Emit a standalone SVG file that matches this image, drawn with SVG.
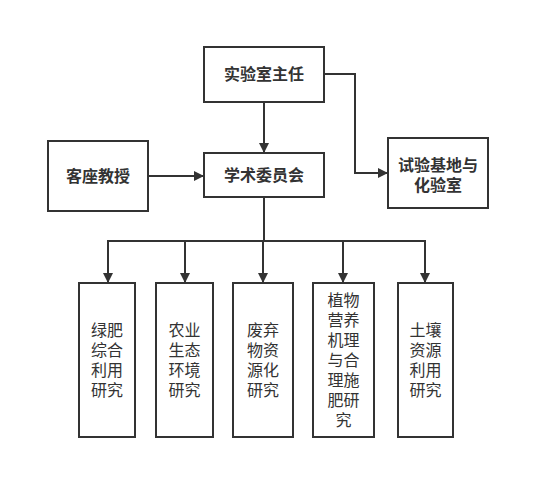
<svg xmlns="http://www.w3.org/2000/svg" width="550" height="499" viewBox="0 0 550 499">
<style>
.box{fill:#fff;stroke:#333;stroke-width:2}
.t{font-family:"Noto Sans CJK SC","Noto Sans",sans-serif;font-size:16px;fill:#333;text-anchor:middle}
.b{font-weight:bold}
.c{fill:none;stroke:#333;stroke-width:2}
</style>
<defs>
<marker id="ah" markerWidth="10" markerHeight="10" refX="9" refY="5" orient="auto" markerUnits="userSpaceOnUse" viewBox="0 0 10 10">
<path d="M0,0 L10,5 L0,10 z" fill="#333"/>
</marker>
</defs>
<rect width="550" height="499" fill="#fff"/>
<g id="connectors">
<path class="c" d="M264,102 V152" marker-end="url(#ah)"/>
<path class="c" d="M148,176 H203" marker-end="url(#ah)"/>
<path class="c" d="M324,74 H355 V173 H387" marker-end="url(#ah)"/>
<path class="c" d="M264,197 V241 M108,241 H425"/>
<path class="c" d="M108,240 V282" marker-end="url(#ah)"/>
<path class="c" d="M185,241 V282" marker-end="url(#ah)"/>
<path class="c" d="M263,241 V282" marker-end="url(#ah)"/>
<path class="c" d="M343,241 V282" marker-end="url(#ah)"/>
<path class="c" d="M425,240 V282" marker-end="url(#ah)"/>
</g>
<g id="n-director">
<rect class="box" x="204" y="47" width="120" height="55"/>
<text class="t b" x="264" y="80">实验室主任</text>
</g>
<g id="n-committee">
<rect class="box" x="204" y="153" width="120" height="44"/>
<text class="t b" x="264" y="181">学术委员会</text>
</g>
<g id="n-guest">
<rect class="box" x="48" y="141" width="100" height="70"/>
<text class="t b" x="98" y="182">客座教授</text>
</g>
<g id="n-base">
<rect class="box" x="388" y="138" width="100" height="70"/>
<text class="t b" x="438" y="171">试验基地与</text>
<text class="t b" x="438" y="191">化验室</text>
</g>
<g id="n1">
<rect class="box" x="79" y="283" width="56" height="154"/>
<text class="t"><tspan x="107" y="336">绿肥</tspan><tspan x="107" y="356">综合</tspan><tspan x="107" y="376">利用</tspan><tspan x="107" y="396">研究</tspan></text>
</g>
<g id="n2">
<rect class="box" x="156" y="283" width="57" height="154"/>
<text class="t"><tspan x="184.5" y="336">农业</tspan><tspan x="184.5" y="356">生态</tspan><tspan x="184.5" y="376">环境</tspan><tspan x="184.5" y="396">研究</tspan></text>
</g>
<g id="n3">
<rect class="box" x="233" y="283" width="60" height="154"/>
<text class="t"><tspan x="263" y="336">废弃</tspan><tspan x="263" y="356">物资</tspan><tspan x="263" y="376">源化</tspan><tspan x="263" y="396">研究</tspan></text>
</g>
<g id="n4">
<rect class="box" x="313" y="283" width="61" height="154"/>
<text class="t"><tspan x="343.5" y="306">植物</tspan><tspan x="343.5" y="326">营养</tspan><tspan x="343.5" y="346">机理</tspan><tspan x="343.5" y="366">与合</tspan><tspan x="343.5" y="386">理施</tspan><tspan x="343.5" y="406">肥研</tspan><tspan x="343.5" y="426">究</tspan></text>
</g>
<g id="n5">
<rect class="box" x="398" y="283" width="55" height="154"/>
<text class="t"><tspan x="425.5" y="336">土壤</tspan><tspan x="425.5" y="356">资源</tspan><tspan x="425.5" y="376">利用</tspan><tspan x="425.5" y="396">研究</tspan></text>
</g>
</svg>
